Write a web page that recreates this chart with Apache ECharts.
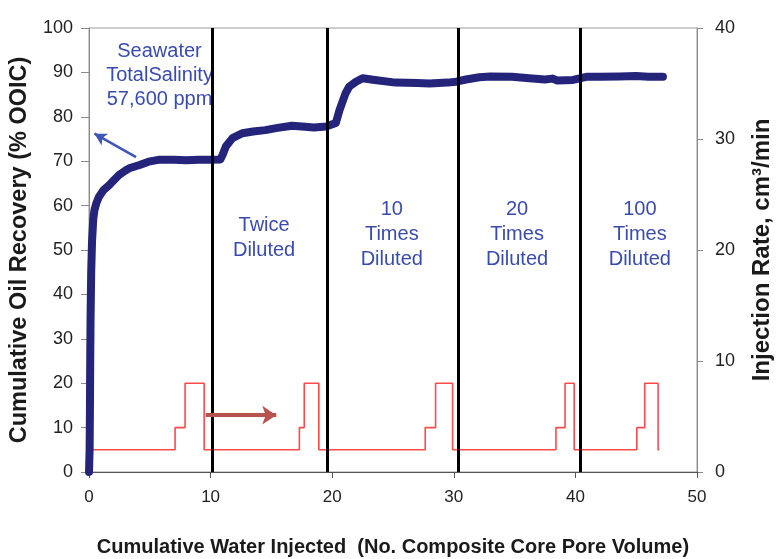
<!DOCTYPE html>
<html>
<head>
<meta charset="utf-8">
<script src="https://cdn.jsdelivr.net/npm/echarts@6/dist/echarts.min.js"></script>
<style>
  html, body { margin: 0; padding: 0; background: #fff; }
  #chart { width: 778px; height: 559px; }
</style>
</head>
<body>
<div id="chart"></div>
<script>
// Cumulative oil recovery (% OOIC) vs. pore volumes injected
const recoveryCurve = [
  [0, 0], [0.05, 5], [0.08, 15], [0.1, 25], [0.13, 35], [0.18, 45], [0.25, 52],
  [0.35, 57], [0.45, 59], [0.6, 60.5], [0.82, 62], [1.2, 63.5], [1.65, 64.6],
  [2.0, 65.6], [2.47, 66.9], [3.0, 67.9], [3.3, 68.4], [4.1, 69.1], [4.9, 69.9],
  [5.7, 70.3], [7, 70.3], [8, 70.2], [9, 70.3], [10, 70.3], [10.8, 70.4],
  [11.0, 71.5], [11.25, 73.3], [11.8, 75.2], [12.6, 76.3], [13.5, 76.7],
  [14.5, 77.0], [15.5, 77.5], [16.7, 78.0], [17.5, 77.8], [18.5, 77.6],
  [19.5, 77.8], [20.3, 78.6], [20.6, 81.5], [21.1, 85.3], [21.4, 86.8],
  [21.95, 87.9], [22.5, 88.7], [23.5, 88.3], [25.2, 87.7], [27, 87.6],
  [28, 87.5], [29.5, 87.7], [30.2, 87.9], [31, 88.4], [32.1, 88.9], [33, 89.1],
  [34.8, 89.0], [36.2, 88.7], [37.5, 88.4], [38.1, 88.6], [38.5, 88.2],
  [39.8, 88.3], [40.9, 89.0], [42, 89.0], [43.6, 89.1], [45, 89.2], [46, 89.0],
  [47.2, 89.0]
];

// Injection rate (cm3/min) stepping through each brine slug
const injectionRate = [
  [0, 2], [7.08, 2], [7.08, 4], [7.9, 4], [7.9, 8], [9.47, 8], [9.47, 2],
  [17.3, 2], [17.3, 4], [17.7, 4], [17.7, 8], [18.9, 8], [18.9, 2],
  [27.65, 2], [27.65, 4], [28.5, 4], [28.5, 8], [29.9, 8], [29.9, 2],
  [38.4, 2], [38.4, 4], [39.15, 4], [39.15, 8], [39.9, 8], [39.9, 2],
  [45.05, 2], [45.05, 4], [45.7, 4], [45.7, 8], [46.8, 8], [46.8, 2], [46.9, 2]
];

// Pore volume at which each diluted brine was introduced
const brineSwitchPV = [10.1, 19.6, 30.4, 40.4];

// Stage labels and their anchor points (PV, % OOIC)
const stageLabels = [
  { text: 'Seawater\nTotalSalinity\n57,600 ppm', at: [5.8, 89.2], lh: 24 },
  { text: 'Twice\nDiluted', at: [14.4, 52.6], lh: 25 },
  { text: '10\nTimes\nDiluted', at: [24.9, 53.4], lh: 25 },
  { text: '20\nTimes\nDiluted', at: [35.2, 53.4], lh: 25 },
  { text: '100\nTimes\nDiluted', at: [45.3, 53.4], lh: 25 }
];

const xTicks = { min: 0, max: 50, step: 10 };
const yLeftTicks = { min: 0, max: 100, step: 10 };
const yRightTicks = { min: 0, max: 40, step: 10 };

const FONT = '"Liberation Sans", Arial, sans-serif';
const labelBlue = '#3a4bb0';

const chart = echarts.init(document.getElementById('chart'), null, { renderer: 'canvas' });

const axisText = { color: '#222', fontFamily: FONT, fontSize: 18 };

chart.setOption({
  animation: false,
  backgroundColor: '#fff',
  grid: {
    left: 89, right: 81, top: 28, bottom: 87,
    outerBoundsMode: 'none', containLabel: false,
    show: true, borderColor: '#9a9a9a', borderWidth: 1
  },
  xAxis: {
    type: 'value', min: xTicks.min, max: xTicks.max, interval: xTicks.step,
    axisLine: { show: true, lineStyle: { color: '#555', width: 1 } },
    axisTick: { show: true, length: 6, lineStyle: { color: '#555' } },
    splitLine: { show: false },
    axisLabel: { margin: 17, fontSize: 17, color: '#222', fontFamily: FONT },
    name: 'Cumulative Water Injected  (No. Composite Core Pore Volume)',
    nameLocation: 'middle', nameGap: 65,
    nameTextStyle: { fontFamily: FONT, fontWeight: 'bold', fontSize: 20, color: '#1a1a1a' }
  },
  yAxis: [
    {
      type: 'value', min: yLeftTicks.min, max: yLeftTicks.max, interval: yLeftTicks.step,
      axisLine: { show: true, lineStyle: { color: '#8a8a8a' } },
      axisTick: { show: true, length: 8, lineStyle: { color: '#8a8a8a' } },
      splitLine: { show: false },
      axisLabel: Object.assign({ margin: 16 }, axisText),
      name: 'Cumulative Oil Recovery (% OOIC)',
      nameLocation: 'middle', nameGap: 57, nameRotate: 90,
      nameTextStyle: { fontFamily: FONT, fontWeight: 'bold', fontSize: 23.5, color: '#1a1a1a' }
    },
    {
      type: 'value', position: 'right', min: yRightTicks.min, max: yRightTicks.max, interval: yRightTicks.step,
      axisLine: { show: true, lineStyle: { color: '#8a8a8a' } },
      axisTick: { show: true, length: 6, lineStyle: { color: '#8a8a8a' } },
      splitLine: { show: false },
      axisLabel: Object.assign({ margin: 18 }, axisText),
      name: 'Injection Rate, cm\u00b3/min',
      nameLocation: 'middle', nameGap: 53, nameRotate: 90,
      nameTextStyle: { fontFamily: FONT, fontWeight: 'bold', fontSize: 24, color: '#1a1a1a' }
    }
  ],
  series: [
    {
      name: 'Injection rate', type: 'line', yAxisIndex: 1, data: injectionRate,
      symbol: 'none', z: 2,
      lineStyle: { color: '#ff4a4a', width: 1.6 }
    },
    {
      name: 'Oil recovery', type: 'line', yAxisIndex: 0, data: recoveryCurve,
      symbol: 'none', z: 3,
      lineStyle: { color: '#24247a', width: 8, join: 'round', cap: 'round' }
    },
    {
      // brine change markers and annotation arrows
      name: 'markers', type: 'line', yAxisIndex: 0, data: [], z: 4,
      markLine: {
        silent: true, symbol: 'none', animation: false,
        label: { show: false },
        data: brineSwitchPV.map(v => ({ xAxis: v, lineStyle: { color: '#000', width: 3, type: 'solid' } })).concat([
          [
            { coord: [3.87, 70.9], symbol: 'none', lineStyle: { color: '#3f55b8', width: 2.5, type: 'solid' } },
            { coord: [0.45, 76.2], symbol: 'arrow', symbolSize: [10, 12] }
          ],
          [
            { coord: [9.6, 12.8], symbol: 'none', lineStyle: { color: '#b8524e', width: 4, type: 'solid' } },
            { coord: [15.4, 12.8], symbol: 'arrow', symbolSize: [14, 14] }
          ]
        ])
      }
    }
  ]
});

// place stage labels at their data anchors
chart.setOption({
  graphic: stageLabels.map(s => {
    const p = chart.convertToPixel({ xAxisIndex: 0, yAxisIndex: 0 }, s.at);
    return {
      type: 'text', x: p[0], y: p[1], silent: true,
      style: {
        text: s.text, fill: labelBlue, font: '20px ' + FONT,
        align: 'center', verticalAlign: 'middle', lineHeight: s.lh
      }
    };
  })
});
</script>
</body>
</html>
